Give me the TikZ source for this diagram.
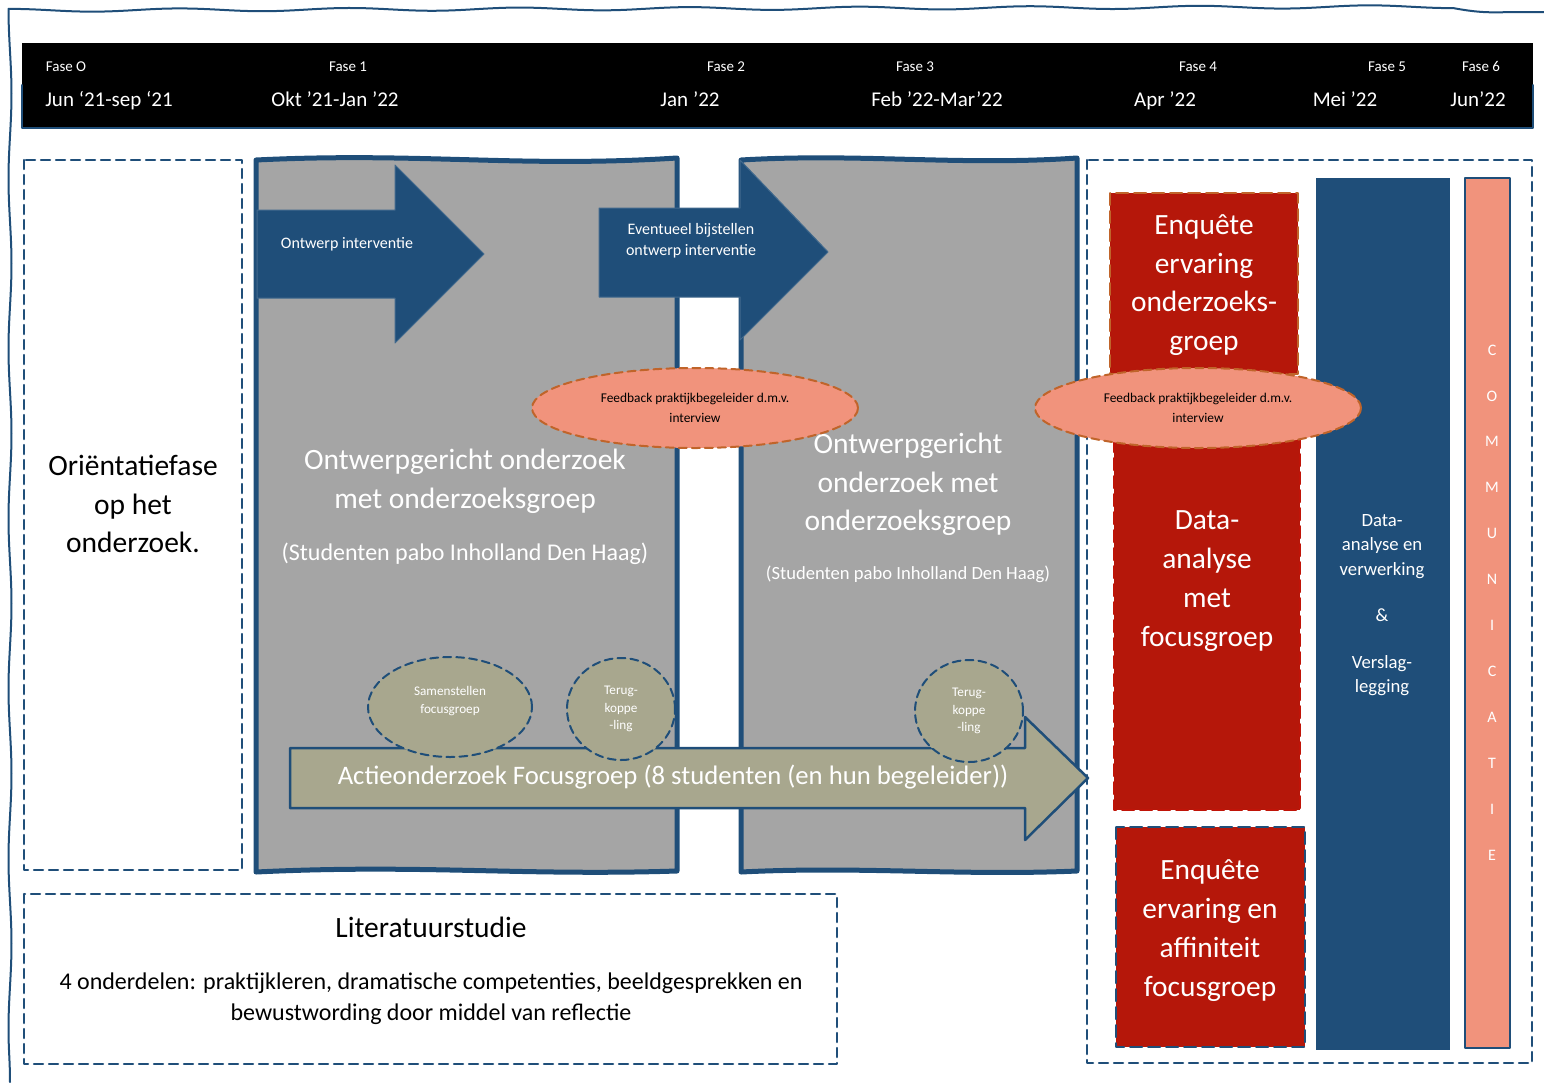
\documentclass[tikz,border=0pt]{standalone}
\usepackage{fontspec}
\setmainfont{Carlito}
\usetikzlibrary{shapes.geometric,decorations.pathmorphing}
\definecolor{donkerblauw}{HTML}{1F4E79}
\definecolor{grijs}{HTML}{A5A5A5}
\definecolor{rood}{HTML}{B5170A}
\definecolor{zalm}{HTML}{F1937C}
\definecolor{olijf}{HTML}{A8A78E}
\definecolor{bruin}{HTML}{C0642A}
\newcommand\fsz[2]{\fontsize{#1}{#2}\selectfont}
\begin{document}
\begin{tikzpicture}[x=1pt,y=-1pt,line join=round,line cap=round]
\tikzset{streep/.style={draw=donkerblauw,line width=2.5pt,dash pattern=on 9pt off 6pt},
  golf/.style={decorate,decoration={snake,amplitude=1.5pt,segment length=170pt}},
  wit/.style={text=white,align=center,inner sep=0pt},
  zwart/.style={text=black,align=center,inner sep=0pt},
  blokpijl/.style={fill=donkerblauw,draw=donkerblauw!85!white,line width=1pt},
  kolom/.style={fill=grijs,draw=donkerblauw,line width=5pt},
  feedback/.style={ellipse,fill=zalm,draw=bruin,line width=2pt,dash pattern=on 8pt off 5pt,minimum width=326,minimum height=80,align=center,inner sep=0pt,font=\fsz{13.4}{20}},
  focus/.style={ellipse,fill=olijf,draw=donkerblauw,line width=2pt,dash pattern=on 8pt off 5pt,text=white,align=center,inner sep=0pt,font=\fsz{13.2}{17.5}}}
\useasboundingbox (0,0) rectangle (1544,1082);
\draw[donkerblauw,line width=2pt,golf] (10,1082) -- (10,16) -- (1544,12);
\fill[black] (22,43) rectangle (1533,128);
\draw[donkerblauw,line width=2pt] (22,85) -- (22,128) -- (1533,128) -- (1533,85);
\foreach \fx/\f/\dx/\d [count=\i from 0] in {66/Fase O/109/Jun ‘21-sep ‘21,348/Fase 1/335/Okt ’21-Jan ’22,726/Fase 2/690/Jan ’22,915/Fase 3/937/Feb ’22-Mar’22,1198/Fase 4/1165/Apr ’22,1387/Fase 5/1345/Mei ’22,1481/Fase 6/1478/Jun’22}{
  \node[wit,anchor=base,font=\fsz{15}{17}] (fase\i) at (\fx,71) {\f};
  \node[wit,anchor=base,font=\fsz{21}{24}] (datum\i) at (\dx,106) {\d};
}
\draw[streep] (24,160) rectangle (242,870);
\node[zwart,font=\fsz{29.5}{38.5}] (orientatie) at (133,504) {Oriëntatiefase\\op het\\onderzoek.};
\draw[streep] (24,894) rectangle (837,1064);
\node[zwart,font=\fsz{29.5}{30}] (literatuur) at (431,927) {Literatuurstudie};
\node[zwart,font=\fsz{24}{31}] (onderdelen) at (431,999) {4 onderdelen: praktijkleren, dramatische competenties, beeldgesprekken en\\bewustwording door middel van reflectie};
\path[kolom] (256,160) .. controls (420,152) and (520,168) .. (677,158) -- (677,871) .. controls (520,876) and (420,864) .. (256,872) -- cycle;
\path[kolom] (741,160) .. controls (860,153) and (960,166) .. (1077,158) -- (1077,871) .. controls (960,876) and (860,866) .. (741,872) -- cycle;
\node[wit,font=\fsz{29.5}{39}] (ogo1) at (465,481) {Ontwerpgericht onderzoek\\met onderzoeksgroep};
\node[wit,font=\fsz{24}{25}] (pabo1) at (465,554) {(Studenten pabo Inholland Den Haag)};
\node[wit,font=\fsz{29.5}{38.5}] (ogo2) at (908,484.5) {Ontwerpgericht\\onderzoek met\\onderzoeksgroep};
\node[wit,font=\fsz{18.6}{20}] (pabo2) at (908,574) {(Studenten pabo Inholland Den Haag)};
\path[blokpijl] (257,210) -- (395,210) -- (395,165) -- (484,254) -- (395,343) -- (395,298) -- (257,298) -- cycle;
\node[wit,font=\fsz{16}{21}] (ontwerp) at (347,244) {Ontwerp interventie};
\path[blokpijl] (599,208) -- (740,208) -- (740,160) -- (828,252) -- (740,340) -- (740,297) -- (599,297) -- cycle;
\node[wit,font=\fsz{16}{21}] (bijstellen) at (691,241) {Eventueel bijstellen\\ontwerp interventie};
\path[fill=olijf,draw=donkerblauw,line width=2.5pt] (290,748) -- (1025,748) -- (1025,717) -- (1088,778) -- (1025,840) -- (1025,808) -- (290,808) -- cycle;
\node[wit,font=\fsz{26.7}{28}] (actie) at (673,777) {Actieonderzoek Focusgroep (8 studenten (en hun begeleider))};
\node[focus,minimum width=164,minimum height=100] (samen) at (450,707) {};
\node[wit,font=\fsz{13.2}{18}] (samentekst) at (450,701) {Samenstellen\\focusgroep};
\node[focus,minimum width=108,minimum height=102] (terug1) at (621,709) {Terug-\\koppe\\-ling};
\node[focus,minimum width=108,minimum height=102] (terug2) at (969,711) {Terug-\\koppe\\-ling};
\draw[streep] (1087,160) rectangle (1532,1063);
\path[fill=rood,draw=bruin,line width=2pt,dash pattern=on 12pt off 6pt] (1110,193) rectangle (1298,374);
\path[fill=rood,draw=rood!85!red,line width=2pt,dash pattern=on 12pt off 6pt] (1114,440) rectangle (1300,810);
\path[fill=rood,draw=donkerblauw,line width=2pt,dash pattern=on 12pt off 6pt] (1116,827) rectangle (1305,1047);
\node[wit,font=\fsz{29.4}{38.8}] (enquete1) at (1204,285) {Enquête\\ervaring\\onderzoeks-\\groep};
\node[wit,font=\fsz{29.4}{38.8}] (analyse) at (1207,581) {Data-\\analyse\\met\\focusgroep};
\node[wit,font=\fsz{29.4}{38.8}] (enquete2) at (1210,930.5) {Enquête\\ervaring en\\affiniteit\\focusgroep};
\path[fill=donkerblauw,draw=white,line width=1pt] (1315,177) rectangle (1450,1050);
\node[wit,font=\fsz{18.7}{24.4}] (verwerking) at (1382,605) {Data-\\analyse en\\verwerking\\[22pt]\&\\[22pt]Verslag-\\legging};
\path[fill=zalm,draw=donkerblauw,line width=2pt] (1465,178) rectangle (1510,1048);
\foreach \l [count=\i from 0] in {C,O,M,M,U,N,I,C,A,T,I,E}
  \node[wit,font=\fsz{16}{18}] (letter\i) at (1492,350+45.9*\i) {\l};
\node[feedback] (feedback1) at (695,408) {Feedback praktijkbegeleider d.m.v.\\interview};
\node[feedback] (feedback2) at (1198,408) {Feedback praktijkbegeleider d.m.v.\\interview};
\end{tikzpicture}
\end{document}
